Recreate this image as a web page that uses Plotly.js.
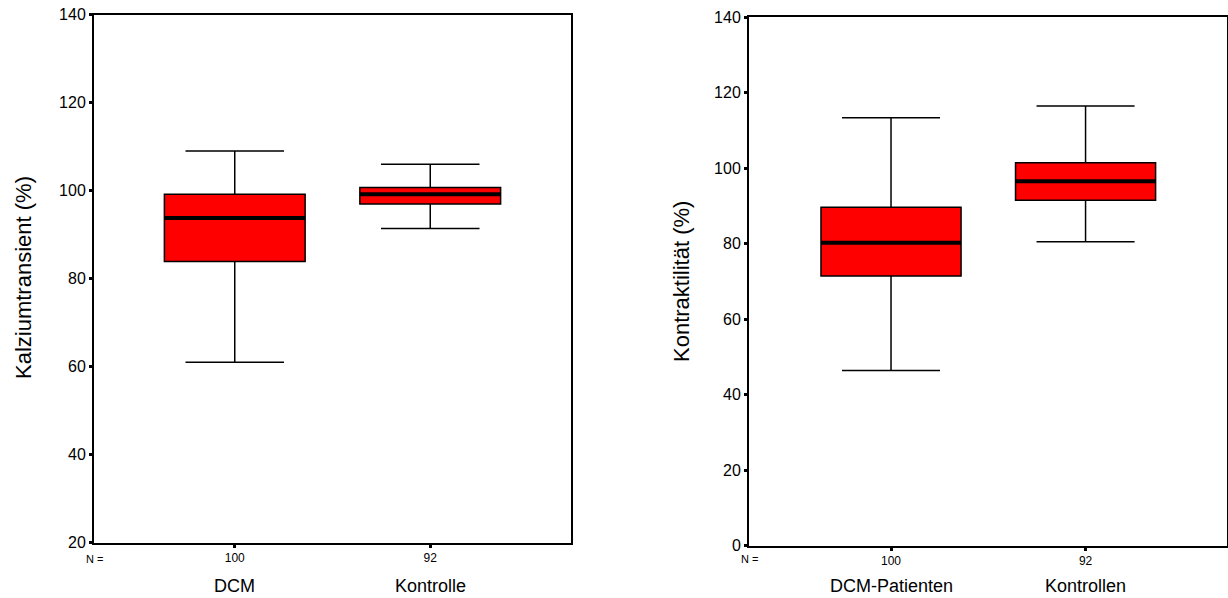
<!DOCTYPE html>
<html><head><meta charset="utf-8">
<script src="https://cdn.plot.ly/plotly-3.0.1.min.js"></script>
<style>html,body{margin:0;padding:0;background:#fff}#c{width:1228px;height:598px}</style>
</head><body><div id="c"></div>
<script>
// Left panel: Kalziumtransient
const catsL = ["DCM", "Kontrolle"];
const nL = ["100", "92"];
const lowL = [61, 91.4];
const q1L = [83.9, 97.0];
const medL = [93.8, 99.2];
const q3L = [99.2, 100.7];
const highL = [109, 106];

// Right panel: Kontraktilität
const catsR = ["DCM-Patienten", "Kontrollen"];
const nR = ["100", "92"];
const lowR = [46.4, 80.5];
const q1R = [71.4, 91.5];
const medR = [80.2, 96.5];
const q3R = [89.6, 101.4];
const highR = [113.3, 116.4];

const FONT = "Arial, 'Liberation Sans', sans-serif";
const BW = 0.72;
const pos = [0, 1];

function boxTrace(xa, ya, low, q1, med, q3, high) {
  return {
    type: "box", xaxis: xa, yaxis: ya, x: pos,
    lowerfence: low, q1: q1, median: med, q3: q3, upperfence: high,
    width: BW, whiskerwidth: 0.7,
    fillcolor: "#ff0000", line: {color: "#000", width: 1.5},
    boxpoints: false, hoverinfo: "skip", showlegend: false
  };
}
function medTrace(xa, ya, med) {
  const x = [], y = [];
  med.forEach((m, i) => { x.push(pos[i] - BW / 2, pos[i] + BW / 2, null); y.push(m, m, null); });
  return {type: "scatter", mode: "lines", xaxis: xa, yaxis: ya, x: x, y: y,
    line: {color: "#000", width: 4}, hoverinfo: "skip", showlegend: false};
}

const data = [
  boxTrace("x", "y", lowL, q1L, medL, q3L, highL),
  medTrace("x", "y", medL),
  boxTrace("x2", "y2", lowR, q1R, medR, q3R, highR),
  medTrace("x2", "y2", medR)
];

function xax(dom, range, ntext, anchor) {
  return {domain: dom, range: range, tickvals: pos, ticktext: ntext,
    ticks: "outside", ticklen: 3, tickwidth: 3, tickcolor: "#000",
    tickfont: {size: 12, color: "#000", family: FONT},
    showline: true, linecolor: "#000", linewidth: 2, mirror: true,
    showgrid: false, zeroline: false, anchor: anchor, fixedrange: true};
}
function yax(dom, range, anchor) {
  return {domain: dom, range: range, dtick: 20, tick0: 0,
    ticks: "outside", ticklen: 3, tickwidth: 3, tickcolor: "#000",
    tickfont: {size: 16, color: "#000", family: FONT},
    showline: true, linecolor: "#000", linewidth: 2, mirror: true,
    showgrid: false, zeroline: false, anchor: anchor, fixedrange: true};
}

const annotations = [];
function addAnn(xref, cats, xr) {
  cats.forEach((c, i) => annotations.push({xref: xref, yref: "paper", x: pos[i], y: 1 - 586 / 598,
    text: c, showarrow: false, font: {size: 18, color: "#000", family: FONT}, yanchor: "middle"}));
  annotations.push({xref: xref, yref: "paper", x: xr, y: 1 - 559 / 598, text: "N =",
    showarrow: false, font: {size: 11, color: "#000", family: FONT}, yanchor: "middle"});
}
addAnn("x", catsL, -0.72);
addAnn("x2", catsR, -0.73);
annotations.push({xref: "paper", yref: "paper", x: 23 / 1228, y: 1 - 278 / 598, textangle: -90,
  text: "Kalziumtransient (%)", showarrow: false, xanchor: "center", yanchor: "middle",
  font: {size: 22, color: "#000", family: FONT}});
annotations.push({xref: "paper", yref: "paper", x: 681 / 1228, y: 1 - 282 / 598, textangle: -90,
  text: "Kontraktilität (%)", showarrow: false, xanchor: "center", yanchor: "middle",
  font: {size: 22, color: "#000", family: FONT}});

const layout = {
  width: 1228, height: 598,
  margin: {l: 0, r: 0, t: 0, b: 0},
  paper_bgcolor: "#fff", plot_bgcolor: "#fff",
  showlegend: false,
  xaxis: xax([94 / 1228, 571 / 1228], [-0.72, 1.72], nL, "y"),
  yaxis: yax([1 - 542.7 / 598, 1 - 14.7 / 598], [20, 140], "x"),
  xaxis2: xax([749 / 1228, 1227 / 1228], [-0.73, 1.727], nR, "y2"),
  yaxis2: yax([1 - 545.7 / 598, 1 - 17 / 598], [0, 140], "x2"),
  annotations: annotations,
  font: {family: FONT, color: "#000"}
};

Plotly.newPlot("c", data, layout, {displayModeBar: false, staticPlot: true});
</script></body></html>
